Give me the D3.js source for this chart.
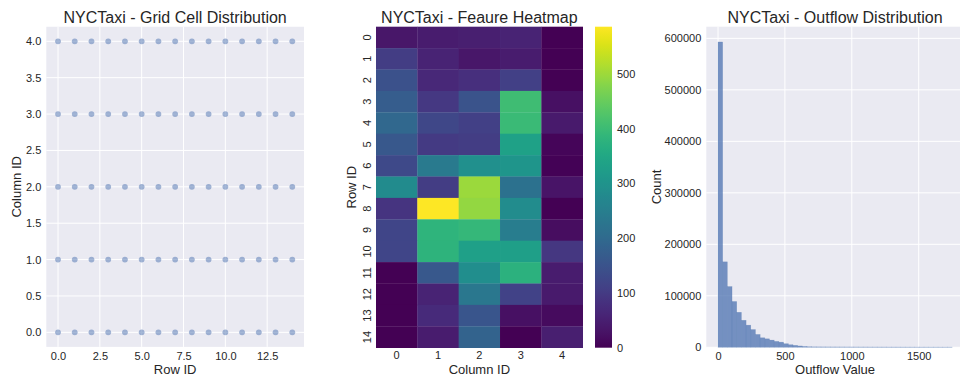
<!DOCTYPE html>
<html>
<head>
<meta charset="utf-8">
<script src="https://cdn.jsdelivr.net/npm/d3@7"></script>
<style>
  html, body { margin: 0; padding: 0; background: #fff; overflow: hidden; }
  svg { display: block; font-family: "Liberation Sans", Arial, sans-serif; }
</style>
</head>
<body>
<svg id="chart" width="960" height="378"></svg>
<script>
// ---- Grid cells (scatter) ----
const gridRows = d3.range(0, 15);          // Row ID 0..14
const gridCols = d3.range(0, 5);           // Column ID 0..4
const scatterXTicks = [0, 2.5, 5, 7.5, 10, 12.5];
const scatterYTicks = [0, 0.5, 1, 1.5, 2, 2.5, 3, 3.5, 4];

// ---- Feature heatmap: rows 0..14, columns 0..4 ----
const heatRowLabels = d3.range(0, 15).map(String);
const heatColLabels = d3.range(0, 5).map(String);
const heatCol0 = [35, 105, 145, 170, 195, 160, 130, 280, 88, 120, 120, 0, 0, 0, 0];
const heatCol1 = [45, 55, 65, 95, 125, 100, 240, 105, 586, 380, 378, 158, 55, 70, 45];
const heatCol2 = [50, 35, 80, 150, 112, 105, 292, 498, 490, 390, 330, 288, 232, 155, 185];
const heatCol3 = [55, 45, 110, 405, 398, 335, 305, 218, 282, 246, 328, 375, 115, 25, 0];
const heatCol4 = [0, 0, 0, 25, 40, 8, 3, 30, 0, 20, 92, 45, 40, 18, 50];
const colorbarTicks = [0, 100, 200, 300, 400, 500];

// ---- Outflow histogram: 50 equal bins over the range ----
const outflowRange = [0, 1750];
const outflowCounts = [
  593000, 166000, 118000, 89000, 68000, 52500, 43000, 34500, 25000, 18500,
  16500, 14000, 11500, 10000, 7000, 5000, 3800, 2600, 1700, 1100,
  900, 850, 800, 780, 760, 740, 720, 700, 690, 680,
  670, 660, 650, 640, 630, 620, 610, 600, 600, 590,
  580, 570, 560, 560, 550, 540, 530, 520, 520, 510
];
const histXTicks = [0, 500, 1000, 1500];
const histYTicks = [0, 100000, 200000, 300000, 400000, 500000, 600000];

const svg = d3.select("#chart");
const textColor = "#262626";
const panelBg = "#eaeaf2";
const seabornBlue = "#4c72b0";

function title(x, y, txt) {
  svg.append("text").attr("x", x).attr("y", y).attr("text-anchor", "middle")
    .attr("font-size", 16).attr("fill", textColor).text(txt);
}
function xLabel(x, y, txt) {
  svg.append("text").attr("x", x).attr("y", y).attr("text-anchor", "middle")
    .attr("font-size", 13).attr("fill", textColor).text(txt);
}
function yLabel(x, y, txt) {
  svg.append("text").attr("transform", `translate(${x},${y}) rotate(-90)`)
    .attr("text-anchor", "middle").attr("font-size", 13).attr("fill", textColor).text(txt);
}
function styleAxis(g) {
  g.select(".domain").remove();
  g.selectAll(".tick line").remove();
  g.selectAll(".tick text").attr("fill", textColor).attr("font-size", 11)
    .attr("font-family", "Liberation Sans, Arial, sans-serif");
}

// ================= Panel 1: grid cell distribution =================
{
  const L = 46.3, R = 304, T = 26.75, B = 346.9;
  const x = d3.scaleLinear().domain([-0.7, 14.7]).range([L, R]);
  const y = d3.scaleLinear().domain([-0.2, 4.2]).range([B, T]);
  svg.append("rect").attr("x", L).attr("y", T).attr("width", R - L).attr("height", B - T).attr("fill", panelBg);
  svg.append("g").selectAll("line").data(scatterXTicks).join("line")
    .attr("x1", d => x(d)).attr("x2", d => x(d)).attr("y1", T).attr("y2", B)
    .attr("stroke", "#fff").attr("stroke-width", 1);
  svg.append("g").selectAll("line").data(scatterYTicks).join("line")
    .attr("y1", d => y(d)).attr("y2", d => y(d)).attr("x1", L).attr("x2", R)
    .attr("stroke", "#fff").attr("stroke-width", 1);
  const pts = [];
  gridRows.forEach(r => gridCols.forEach(c => pts.push({ r, c })));
  svg.append("g").selectAll("circle").data(pts).join("circle")
    .attr("cx", d => x(d.r)).attr("cy", d => y(d.c)).attr("r", 2.9)
    .attr("fill", seabornBlue).attr("fill-opacity", 0.5);
  svg.append("g").attr("transform", `translate(0,${B + 1})`)
    .call(d3.axisBottom(x).tickValues(scatterXTicks).tickFormat(d3.format(".1f")).tickSize(0).tickPadding(4))
    .call(styleAxis);
  svg.append("g").attr("transform", `translate(${L - 1},0)`)
    .call(d3.axisLeft(y).tickValues(scatterYTicks).tickFormat(d3.format(".1f")).tickSize(0).tickPadding(4))
    .call(styleAxis);
  title((L + R) / 2, 22.5, "NYCTaxi - Grid Cell Distribution");
  xLabel((L + R) / 2, 373.5, "Row ID");
  yLabel(20.5, (T + B) / 2, "Column ID");
}

// ================= Panel 2: feature heatmap =================
{
  const L = 376, R = 582.7, T = 26.7, B = 347.7;
  const cols = [heatCol0, heatCol1, heatCol2, heatCol3, heatCol4];
  const vmax = d3.max(cols.flat());
  const color = d3.scaleSequential(d3.interpolateViridis).domain([0, vmax]);
  const x = d3.scaleBand().domain(heatColLabels).range([L, R]);
  const y = d3.scaleBand().domain(heatRowLabels).range([T, B]);
  const cells = [];
  cols.forEach((vals, ci) => vals.forEach((v, ri) => cells.push({ c: heatColLabels[ci], r: heatRowLabels[ri], v })));
  svg.append("g").selectAll("rect").data(cells).join("rect")
    .attr("x", d => x(d.c)).attr("y", d => y(d.r))
    .attr("width", x.bandwidth() + 0.3).attr("height", y.bandwidth() + 0.3)
    .attr("fill", d => color(d.v));
  svg.append("g").attr("transform", `translate(0,${B})`)
    .call(d3.axisBottom(x).tickSize(0).tickPadding(4)).call(styleAxis);
  // vertical row labels
  svg.append("g").selectAll("text").data(heatRowLabels).join("text")
    .attr("transform", d => `translate(371,${y(d) + y.bandwidth() / 2}) rotate(-90)`)
    .attr("text-anchor", "middle").attr("font-size", 11).attr("fill", textColor).text(d => d);
  title((L + R) / 2, 22.5, "NYCTaxi - Feaure Heatmap");
  xLabel((L + R) / 2, 373.5, "Column ID");
  yLabel(356, (T + B) / 2, "Row ID");

  // colorbar
  const cbL = 595, cbW = 17;
  const cy = d3.scaleLinear().domain([0, vmax]).range([B, T]);
  const defs = svg.append("defs");
  const grad = defs.append("linearGradient").attr("id", "viridisBar")
    .attr("x1", 0).attr("x2", 0).attr("y1", 1).attr("y2", 0);
  d3.range(0, 1.0001, 0.02).forEach(t => grad.append("stop").attr("offset", t).attr("stop-color", d3.interpolateViridis(t)));
  svg.append("rect").attr("x", cbL).attr("y", T).attr("width", cbW).attr("height", B - T).attr("fill", "url(#viridisBar)");
  svg.append("g").attr("transform", `translate(${cbL + cbW},0)`)
    .call(d3.axisRight(cy).tickValues(colorbarTicks).tickSize(0).tickPadding(5))
    .call(styleAxis);
}

// ================= Panel 3: outflow histogram =================
{
  const T = 26.7, B = 347.3;
  const x = d3.scaleLinear().domain([0, 1500]).range([718, 918.7]);
  const pad = (outflowRange[1] - outflowRange[0]) * 0.05;
  const L = x(outflowRange[0] - pad), R = x(outflowRange[1] + pad);
  const yMax = d3.max(outflowCounts);
  const y = d3.scaleLinear().domain([0, yMax * 1.05]).range([B, T]);
  const binW = (outflowRange[1] - outflowRange[0]) / outflowCounts.length;
  svg.append("rect").attr("x", L).attr("y", T).attr("width", R - L).attr("height", B - T).attr("fill", panelBg);
  svg.append("g").selectAll("line").data(histXTicks).join("line")
    .attr("x1", d => x(d)).attr("x2", d => x(d)).attr("y1", T).attr("y2", B)
    .attr("stroke", "#fff").attr("stroke-width", 1);
  svg.append("g").selectAll("line").data(histYTicks).join("line")
    .attr("y1", d => y(d)).attr("y2", d => y(d)).attr("x1", L).attr("x2", R)
    .attr("stroke", "#fff").attr("stroke-width", 1);
  svg.append("g").selectAll("rect").data(outflowCounts).join("rect")
    .attr("x", (d, i) => x(outflowRange[0] + i * binW))
    .attr("width", x(binW) - x(0))
    .attr("y", d => y(d)).attr("height", d => y(0) - y(d))
    .attr("fill", seabornBlue).attr("fill-opacity", 0.75)
    .attr("stroke", seabornBlue).attr("stroke-opacity", 0.35).attr("stroke-width", 0.5);
  svg.append("g").attr("transform", `translate(0,${B + 1})`)
    .call(d3.axisBottom(x).tickValues(histXTicks).tickFormat(d3.format("d")).tickSize(0).tickPadding(4))
    .call(styleAxis);
  svg.append("g").attr("transform", `translate(${L - 2},0)`)
    .call(d3.axisLeft(y).tickValues(histYTicks).tickFormat(d3.format("d")).tickSize(0).tickPadding(3))
    .call(styleAxis);
  title(835, 22.5, "NYCTaxi - Outflow Distribution");
  xLabel(835, 373.5, "Outflow Value");
  yLabel(660.5, (T + B) / 2, "Count");
}
</script>
</body>
</html>
